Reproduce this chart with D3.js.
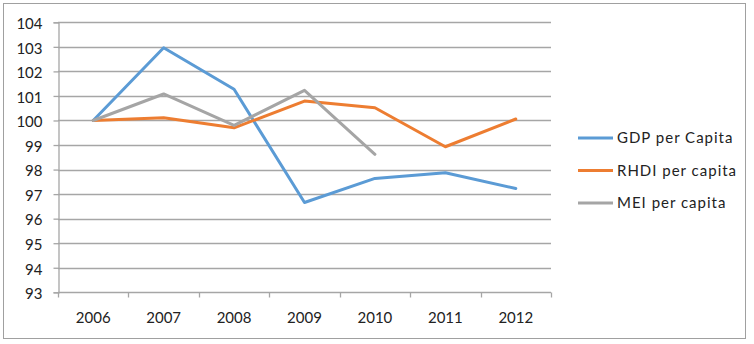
<!DOCTYPE html>
<html>
<head>
<meta charset="utf-8">
<script src="https://cdn.jsdelivr.net/npm/d3@7"></script>
<style>
  html, body { margin: 0; padding: 0; background: #fff; }
  svg text { font-family: Lato, "Liberation Sans", sans-serif; fill: #222; }
</style>
</head>
<body>
<svg id="chart" width="754" height="344"></svg>
<script>
// Index values, 2006 = 100
const years = ["2006", "2007", "2008", "2009", "2010", "2011", "2012"];
const gdpPerCapita  = [100, 102.96, 101.27, 96.66, 97.64, 97.87, 97.23];
const rhdiPerCapita = [100, 100.11, 99.7, 100.79, 100.52, 98.93, 100.06];
const meiPerCapita  = [100, 101.08, 99.8, 101.23, 98.62];
const yTicks = [93, 94, 95, 96, 97, 98, 99, 100, 101, 102, 103, 104];

const seriesNames  = ["GDP per Capita", "RHDI per capita", "MEI per capita"];
const seriesValues = [gdpPerCapita, rhdiPerCapita, meiPerCapita];
const seriesColors = ["#5B9BD5", "#ED7D31", "#A5A5A5"];

const svg = d3.select("#chart");
const plot = { left: 58, right: 551, top: 22.3, bottom: 292.3 };

// outer frame
svg.append("rect")
  .attr("x", 3.5).attr("y", 3.5)
  .attr("width", 742).attr("height", 335)
  .attr("fill", "#fff").attr("stroke", "#a0a0a0").attr("stroke-width", 1);

const x = d3.scaleBand().domain(years).range([plot.left, plot.right]);
const y = d3.scaleLinear().domain([93, 104]).range([plot.bottom, plot.top]);

// horizontal gridlines
svg.append("g")
  .selectAll("line")
  .data(yTicks.filter(d => d !== 93))
  .join("line")
  .attr("x1", plot.left).attr("x2", plot.right)
  .attr("y1", d => Math.round(y(d)) + 0.5).attr("y2", d => Math.round(y(d)) + 0.5)
  .attr("stroke", "#a6a6a6").attr("stroke-width", 1.3);

// y axis
const yAxis = svg.append("g")
  .attr("transform", `translate(${plot.left + 0.5},0)`)
  .call(d3.axisLeft(y).tickValues(yTicks).tickFormat(d3.format("d")).tickSize(5).tickPadding(11));
yAxis.selectAll("line, path").attr("stroke", "#a6a6a6").attr("stroke-width", 1.3);
yAxis.selectAll("text").attr("font-size", 15).attr("fill", "#222")
  .attr("font-family", "Lato, 'Liberation Sans', sans-serif").attr("dy", "0.42em");

// x axis with ticks between categories
const xAxisG = svg.append("g").attr("transform", `translate(0,${Math.round(plot.bottom) + 0.5})`);
xAxisG.append("line")
  .attr("x1", plot.left).attr("x2", plot.right)
  .attr("stroke", "#a6a6a6").attr("stroke-width", 1.3);
const boundaries = years.map(d => x(d)).concat([x.range()[1]]);
xAxisG.selectAll("line.tick")
  .data(boundaries)
  .join("line").attr("class", "tick")
  .attr("x1", d => Math.round(d) + 0.5).attr("x2", d => Math.round(d) + 0.5)
  .attr("y1", 0).attr("y2", 5)
  .attr("stroke", "#a6a6a6").attr("stroke-width", 1.3);
xAxisG.selectAll("text")
  .data(years)
  .join("text")
  .attr("x", d => x(d) + x.bandwidth() / 2)
  .attr("y", 30)
  .attr("text-anchor", "middle")
  .attr("font-size", 15)
  .text(d => d);

// series lines
const line = d3.line()
  .x((d, i) => x(years[i]) + x.bandwidth() / 2)
  .y(d => y(d));

svg.append("g")
  .selectAll("path")
  .data(seriesValues)
  .join("path")
  .attr("d", d => line(d))
  .attr("fill", "none")
  .attr("stroke", (d, i) => seriesColors[i])
  .attr("stroke-width", 3)
  .attr("stroke-linejoin", "round")
  .attr("stroke-linecap", "round");

// legend
const legend = svg.append("g").attr("transform", "translate(578,138)");
const item = legend.selectAll("g")
  .data(seriesNames)
  .join("g")
  .attr("transform", (d, i) => `translate(0,${i * 32.5})`);
item.append("line")
  .attr("x1", 0).attr("x2", 35)
  .attr("stroke", (d, i) => seriesColors[i])
  .attr("stroke-width", 3);
item.append("text")
  .attr("x", 39).attr("y", 0).attr("dy", "0.35em")
  .attr("font-size", 15)
  .attr("letter-spacing", 1)
  .text(d => d);
</script>
</body>
</html>
